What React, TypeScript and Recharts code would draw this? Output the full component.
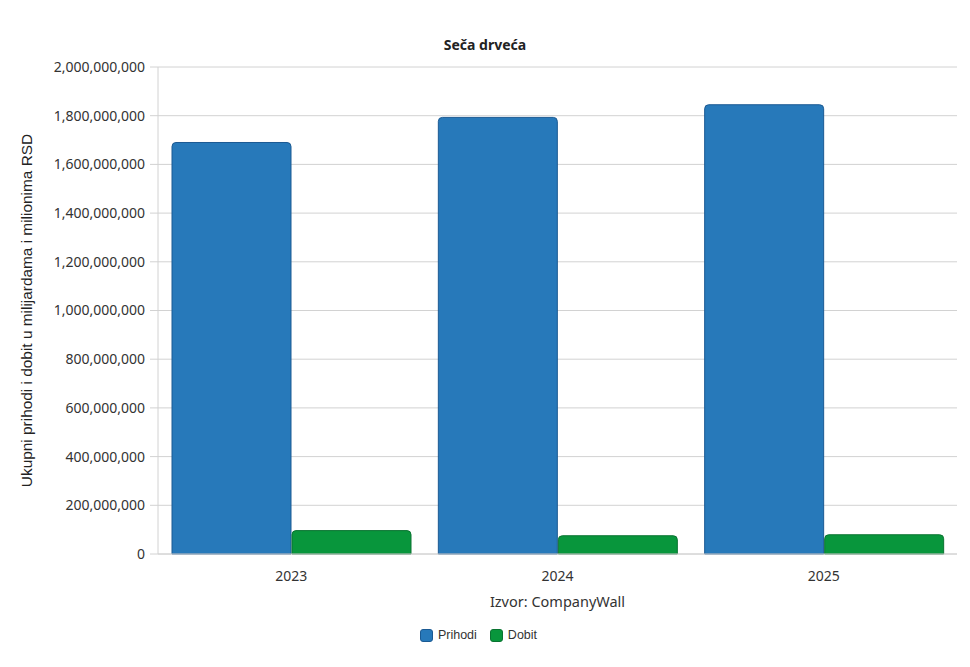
import React from 'react';
import { BarChart, Bar, XAxis, YAxis, CartesianGrid, Legend, Label } from 'recharts';

const years = ['2023', '2024', '2025'];
const prihodi = [1690000000, 1793000000, 1845000000];
const dobit = [96000000, 75000000, 79000000];
const yTicks = [0, 200000000, 400000000, 600000000, 800000000, 1000000000, 1200000000, 1400000000, 1600000000, 1800000000, 2000000000];
const seriesOrder = ['Prihodi', 'Dobit'];

const COLORS = {
  prihodi: '#2779ba',
  prihodiStroke: '#1b5a93',
  dobit: '#08963c',
  dobitStroke: '#0a7331',
  grid: '#d2d2d2',
  text: '#333333'
};

const data = years.map((year, i) => ({
  year,
  Prihodi: prihodi[i],
  Dobit: dobit[i]
}));

const tickFont = '"Noto Sans", "Open Sans", sans-serif';

const LegendContent = ({ payload }: any) => {
  const items = [...(payload || [])].sort(
    (a: any, b: any) => seriesOrder.indexOf(a.value) - seriesOrder.indexOf(b.value)
  );
  return (
    <div style={{ display: 'flex', justifyContent: 'center', gap: 13, fontFamily: '"Liberation Sans", Arial, sans-serif', fontSize: 12.5, color: COLORS.text }}>
      {items.map((entry: any) => (
        <div key={entry.value} style={{ display: 'flex', alignItems: 'center' }}>
          <span
            style={{
              display: 'inline-block',
              width: 11,
              height: 11,
              borderRadius: 3,
              background: entry.value === 'Prihodi' ? COLORS.prihodi : COLORS.dobit,
              border: `1px solid ${entry.value === 'Prihodi' ? COLORS.prihodiStroke : COLORS.dobitStroke}`,
              marginRight: 5
            }}
          />
          <span>{entry.value}</span>
        </div>
      ))}
    </div>
  );
};

export default function App() {
  return (
    <div style={{ position: 'absolute', left: 0, top: 0, width: 970, height: 667, background: '#fff' }}>
      <div
        style={{
          position: 'absolute',
          top: 35,
          width: 970,
          textAlign: 'center',
          fontFamily: tickFont,
          fontWeight: 700,
          fontSize: 14,
          color: '#222'
        }}
      >
        Seča drveća
      </div>
      <BarChart
        width={970}
        height={667}
        data={data}
        margin={{ top: 67, right: 13, left: 0, bottom: 37 }}
        barCategoryGap={14}
        barGap={1}
      >
        <CartesianGrid vertical={false} stroke={COLORS.grid} />
        <XAxis
          dataKey="year"
          stroke={COLORS.grid}
          tickLine={false}
          height={62}
          tick={{ fill: COLORS.text, fontSize: 14, fontFamily: tickFont }}
          tickMargin={11}
        >
          <Label
            value="Izvor: CompanyWall"
            position="insideBottom"
            offset={9}
            style={{ fill: COLORS.text, fontSize: 14.5, fontFamily: tickFont }}
          />
        </XAxis>
        <YAxis
          width={158}
          domain={[0, 2000000000]}
          ticks={yTicks}
          interval={0}
          stroke={COLORS.grid}
          tickSize={8}
          tickMargin={5}
          tick={{ fill: COLORS.text, fontSize: 14, fontFamily: tickFont }}
          tickFormatter={(v: number) => v.toLocaleString('en-US')}
        >
          <Label
            value="Ukupni prihodi i dobit u milijardama i milionima RSD"
            angle={-90}
            position="insideLeft"
            offset={27}
            style={{ textAnchor: 'middle', fill: '#222', fontSize: 15.4, fontFamily: '"Liberation Sans", Arial, sans-serif' }}
          />
        </YAxis>
        <Legend verticalAlign="bottom" content={<LegendContent />} wrapperStyle={{ bottom: 25 }} />
        <Bar
          dataKey="Prihodi"
          fill={COLORS.prihodi}
          stroke={COLORS.prihodiStroke}
          strokeWidth={1}
          radius={[4, 4, 0, 0]}
          isAnimationActive={false}
        />
        <Bar
          dataKey="Dobit"
          fill={COLORS.dobit}
          stroke={COLORS.dobitStroke}
          strokeWidth={1}
          radius={[4, 4, 0, 0]}
          isAnimationActive={false}
        />
      </BarChart>
    </div>
  );
}
